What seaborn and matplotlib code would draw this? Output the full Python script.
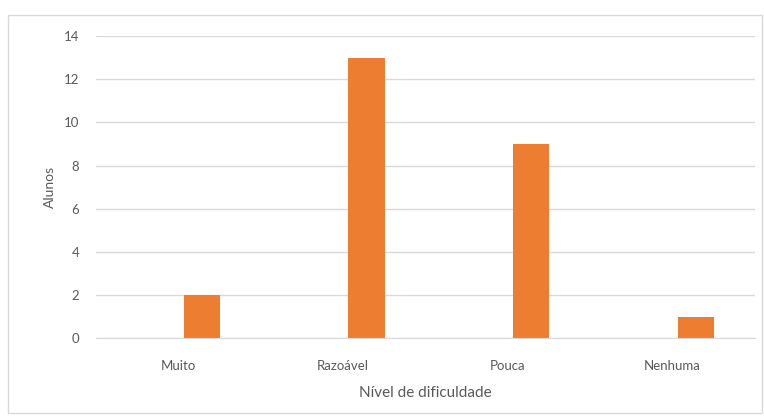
import matplotlib
matplotlib.use("Agg")
import matplotlib.pyplot as plt
import pandas as pd
import seaborn as sns
from matplotlib.patches import Rectangle

# Data
categories = ["Muito", "Razoável", "Pouca", "Nenhuma"]
alunos = [2, 13, 9, 1]
vazio = [0, 0, 0, 0]  # empty first series, as in the Excel clustered chart
series_order = ["vazio", "Alunos"]

df = pd.concat([
    pd.DataFrame({"nivel": categories, "alunos": vazio, "serie": "vazio"}),
    pd.DataFrame({"nivel": categories, "alunos": alunos, "serie": "Alunos"}),
])

sns.set_style("white")
plt.rcParams["font.family"] = ["Lato", "DejaVu Sans"]

text_color = "#595959"
grid_color = "#D9D9D9"

fig = plt.figure(figsize=(7.64, 4.19), dpi=100)
ax = fig.add_axes([0.1257, 0.193, 0.862, 0.721])

sns.barplot(
    data=df, x="nivel", y="alunos", hue="serie", hue_order=series_order,
    palette={"vazio": "#FFFFFF", "Alunos": "#ED7D31"}, saturation=1,
    width=0.572, gap=0.224, order=categories, ax=ax, legend=False,
    linewidth=0,
)

ax.set_ylim(0, 14)
ax.set_yticks(range(0, 15, 2))
ax.set_xlim(-0.5, len(categories) - 0.5)
ax.yaxis.grid(True, color=grid_color, linewidth=1)
ax.set_axisbelow(True)
for side in ["top", "right", "left"]:
    ax.spines[side].set_visible(False)
ax.spines["bottom"].set_color(grid_color)
ax.tick_params(axis="both", length=0, colors=text_color, labelsize=9.5)
ax.tick_params(axis="y", pad=12)
ax.tick_params(axis="x", pad=16)
ax.set_xlabel("Nível de dificuldade", color=text_color, fontsize=11, labelpad=10)
ax.set_ylabel("Alunos", color=text_color, fontsize=10, labelpad=6)

fig.patches.append(Rectangle((0.0105, 0.014), 0.987, 0.95, transform=fig.transFigure,
                             fill=False, edgecolor=grid_color, linewidth=1))

fig.savefig("out.png", dpi=100)
plt.close(fig)
